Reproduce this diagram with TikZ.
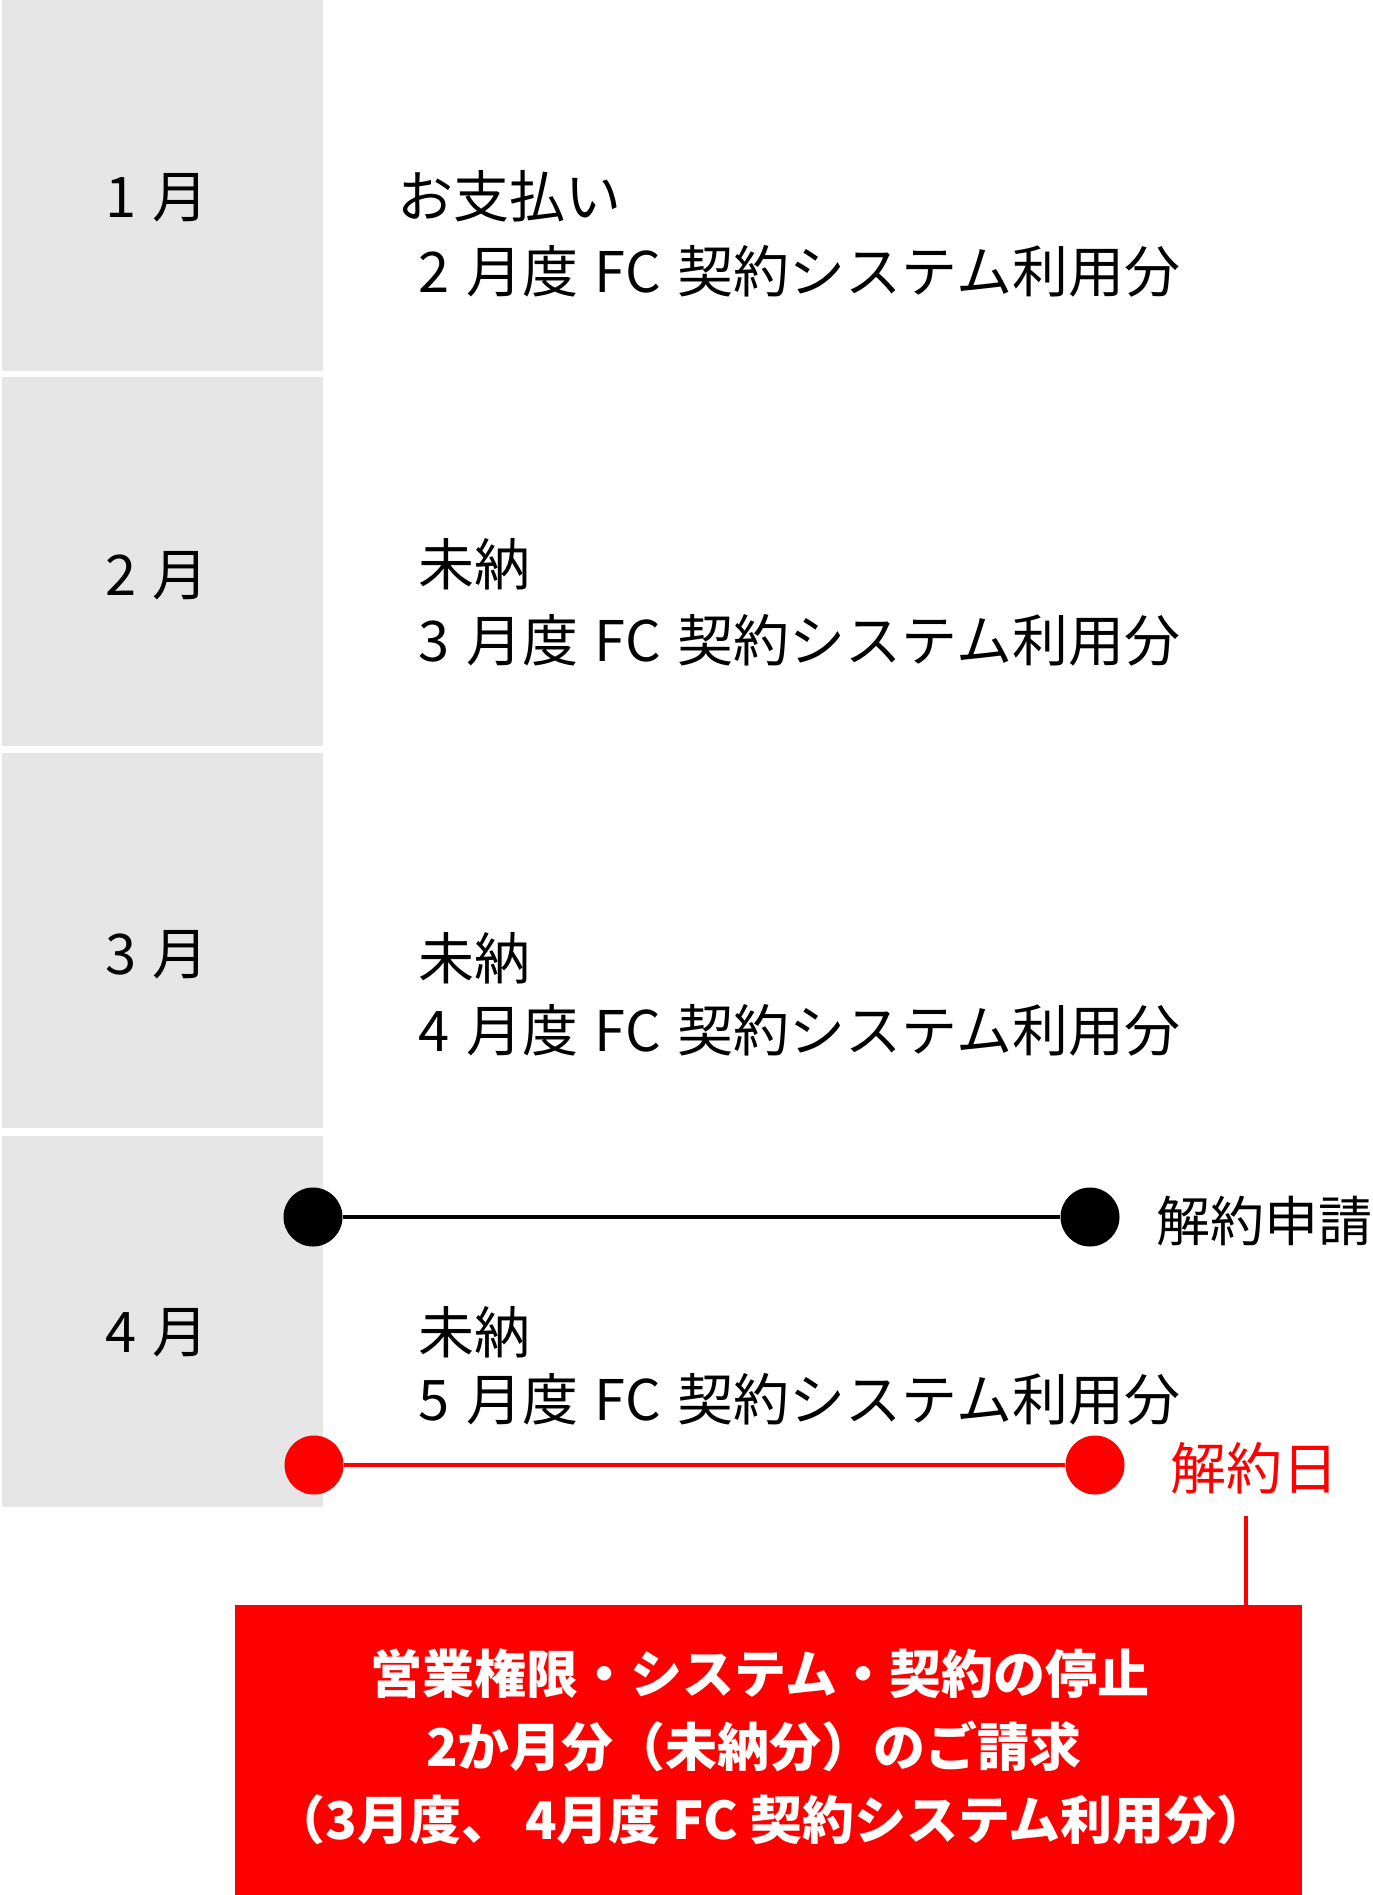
\documentclass[tikz,border=0pt]{standalone}
\usepackage{fontspec}
\setmainfont{Noto Sans CJK JP}
\definecolor{boxgray}{RGB}{230,230,230}
\definecolor{sred}{RGB}{255,0,0}
\newcommand\wgap{\hspace{0.3em}}
\tikzset{
  monthbox/.style={fill=boxgray, draw=none, inner sep=0pt, outer sep=0pt, anchor=north west, minimum width=321.5pt},
  monthlbl/.style={inner sep=0pt, font=\fontsize{56pt}{60pt}\selectfont},
  rowtxt/.style={inner sep=0pt, anchor=west, font=\fontsize{56pt}{60pt}\selectfont},
  bdot/.style={circle, fill=black, inner sep=0pt, minimum size=59pt},
  rdot/.style={circle, fill=sred, inner sep=0pt, minimum size=59pt},
  whitetxt/.style={inner sep=0pt, text=white, font=\fontsize{52pt}{56pt}\selectfont\bfseries}
}
\begin{document}
\begin{tikzpicture}[x=1pt,y=-1pt]
\useasboundingbox (0,0) rectangle (1373,1895);
% gray month boxes
\node[monthbox, minimum height=371pt] (m1) at (1.5,0) {};
\node[monthbox, minimum height=369pt] (m2) at (1.5,377) {};
\node[monthbox, minimum height=375pt] (m3) at (1.5,753) {};
\node[monthbox, minimum height=371pt] (m4) at (1.5,1136) {};
% month labels
\node[monthlbl] (l1) at (157,198) {1\wgap 月};
\node[monthlbl] (l2) at (157,576) {2\wgap 月};
\node[monthlbl] (l3) at (157,955) {3\wgap 月};
\node[monthlbl] (l4) at (157,1333) {4\wgap 月};
% row texts
\node[rowtxt] (t1a) at (397,196) {お支払い};
\node[rowtxt] (t1b) at (418,271) {2\wgap 月度\wgap FC\wgap 契約システム利用分};
\node[rowtxt] (t2a) at (418,564) {未納};
\node[rowtxt] (t2b) at (418,640) {3\wgap 月度\wgap FC\wgap 契約システム利用分};
\node[rowtxt] (t3a) at (418,958) {未納};
\node[rowtxt] (t3b) at (418,1030) {4\wgap 月度\wgap FC\wgap 契約システム利用分};
\node[rowtxt] (t4a) at (418,1332) {未納};
\node[rowtxt] (t4b) at (418,1399) {5\wgap 月度\wgap FC\wgap 契約システム利用分};
% cancellation application line
\node[bdot] (b1) at (313,1217) {};
\node[bdot] (b2) at (1090,1217) {};
\draw[line width=3.5pt] (b1) -- (b2);
\node[rowtxt, font=\fontsize{54pt}{58pt}\selectfont] (req) at (1156,1221) {解約申請};
% cancellation date line
\node[rdot] (r1) at (314,1465) {};
\node[rdot] (r2) at (1095,1465) {};
\draw[sred, line width=3.5pt] (r1) -- (r2);
\node[rowtxt, text=sred] (day) at (1170,1468) {解約日};
% red box
\node[fill=sred, inner sep=0pt, anchor=north west, minimum width=1067pt, minimum height=290pt] (rbox) at (235,1605) {};
\coordinate (rl) at (1246,1516);
\draw[sred, line width=4pt] (rl) -- (rl |- rbox.north);
\node[whitetxt] (w1) at (760,1674) {営業権限・システム・契約の停止};
\node[whitetxt] (w2) at (754,1746) {2か月分（未納分）のご請求};
\node[whitetxt] (w3) at (771,1820) {（3月度、 4月度 FC 契約システム利用分）};
\end{tikzpicture}
\end{document}
